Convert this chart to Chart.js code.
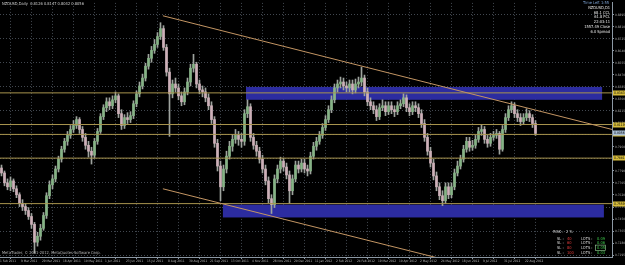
<!DOCTYPE html>
<html>
<head>
<meta charset="utf-8">
<script src="https://cdn.jsdelivr.net/npm/chart.js@4/dist/chart.umd.min.js"></script>
<style>
  html, body { margin: 0; padding: 0; background: #000; }
  #wrap { width: 625px; height: 265px; }
</style>
</head>
<body>
<div id="wrap"><canvas id="mtChart" width="625" height="265"></canvas></div>
<script>
// NZDUSD daily, Feb 2011 - Aug 2012 (one candle ~ 2 trading days)
const symbolTitle = 'NZDUSD,Daily  0.8126 0.8147 0.8042 0.8056';

const dateLabels = ['1 Feb 2011', '9 Mar 2011', '29 Mar 2011', '18 Apr 2011', '10 May 2011', '1 Jun 2011',
  '23 Jun 2011', '15 Jul 2011', '8 Aug 2011', '30 Aug 2011', '21 Sep 2011', '13 Oct 2011', '4 Nov 2011',
  '28 Nov 2011', '20 Dec 2011', '11 Jan 2012', '2 Feb 2012', '24 Feb 2012', '19 Mar 2012', '10 Apr 2012',
  '2 May 2012', '24 May 2012', '18 Jun 2012', '9 Jul 2012', '31 Jul 2012', '22 Aug 2012'];

const opens = [0.7811, 0.7776, 0.7706, 0.7678, 0.7720, 0.7664, 0.7622, 0.7559, 0.7538, 0.7510,
  0.7468, 0.7412, 0.7286, 0.7328, 0.7384, 0.7475, 0.7615, 0.7692, 0.7734, 0.7804,
  0.7874, 0.7944, 0.8000, 0.8042, 0.8084, 0.8112, 0.8154, 0.8084, 0.8028, 0.7972,
  0.7930, 0.7902, 0.8000, 0.8070, 0.8175, 0.8238, 0.8280, 0.8252, 0.8294, 0.8322,
  0.8196, 0.8112, 0.8168, 0.8154, 0.8182, 0.8266, 0.8336, 0.8392, 0.8448, 0.8532,
  0.8588, 0.8644, 0.8686, 0.8742, 0.8798, 0.8665, 0.8490, 0.8336, 0.8406, 0.8378,
  0.8322, 0.8280, 0.8350, 0.8420, 0.8518, 0.8546, 0.8406, 0.8364, 0.8350, 0.8308,
  0.8252, 0.8154, 0.7986, 0.7825, 0.7678, 0.7804, 0.7895, 0.7965, 0.8014, 0.8042,
  0.8014, 0.8000, 0.8196, 0.8245, 0.8028, 0.7972, 0.7930, 0.7874, 0.7804, 0.7720,
  0.7594, 0.7552, 0.7734, 0.7804, 0.7860, 0.7818, 0.7762, 0.7650, 0.7734, 0.7832,
  0.7804, 0.7846, 0.7804, 0.7790, 0.7895, 0.7965, 0.8000, 0.8042, 0.8098, 0.8154,
  0.8224, 0.8294, 0.8378, 0.8406, 0.8420, 0.8392, 0.8378, 0.8406, 0.8364, 0.8406,
  0.8420, 0.8448, 0.8350, 0.8280, 0.8252, 0.8224, 0.8175, 0.8238, 0.8252, 0.8210,
  0.8252, 0.8224, 0.8210, 0.8252, 0.8266, 0.8308, 0.8238, 0.8210, 0.8252, 0.8238,
  0.8196, 0.8126, 0.8028, 0.7930, 0.7846, 0.7755, 0.7678, 0.7615, 0.7580, 0.7678,
  0.7622, 0.7678, 0.7776, 0.7825, 0.7874, 0.7944, 0.8000, 0.7958, 0.7972, 0.8014,
  0.8070, 0.8084, 0.8014, 0.7986, 0.8028, 0.8042, 0.8056, 0.7944, 0.8084, 0.8168,
  0.8224, 0.8252, 0.8196, 0.8168, 0.8140, 0.8168, 0.8196, 0.8168, 0.8126];

const highs = [0.7832, 0.7790, 0.7734, 0.7748, 0.7734, 0.7685, 0.7636, 0.7587, 0.7559, 0.7531,
  0.7489, 0.7426, 0.7356, 0.7412, 0.7496, 0.7636, 0.7720, 0.7762, 0.7825, 0.7895,
  0.7965, 0.8021, 0.8070, 0.8112, 0.8147, 0.8175, 0.8168, 0.8105, 0.8056, 0.8000,
  0.7958, 0.8021, 0.8091, 0.8196, 0.8259, 0.8308, 0.8308, 0.8322, 0.8350, 0.8336,
  0.8224, 0.8189, 0.8203, 0.8210, 0.8287, 0.8357, 0.8420, 0.8476, 0.8553, 0.8616,
  0.8672, 0.8721, 0.8770, 0.8840, 0.8819, 0.8686, 0.8518, 0.8434, 0.8448, 0.8406,
  0.8350, 0.8378, 0.8448, 0.8546, 0.8616, 0.8560, 0.8434, 0.8392, 0.8378, 0.8336,
  0.8280, 0.8175, 0.8014, 0.7860, 0.7832, 0.7930, 0.8000, 0.8049, 0.8084, 0.8070,
  0.8056, 0.8224, 0.8294, 0.8266, 0.8056, 0.8000, 0.7958, 0.7902, 0.7832, 0.7748,
  0.7622, 0.7762, 0.7832, 0.7888, 0.7881, 0.7846, 0.7790, 0.7762, 0.7860, 0.7860,
  0.7874, 0.7874, 0.7832, 0.7923, 0.7993, 0.8028, 0.8070, 0.8126, 0.8182, 0.8252,
  0.8322, 0.8406, 0.8434, 0.8455, 0.8448, 0.8420, 0.8434, 0.8434, 0.8441, 0.8455,
  0.8525, 0.8469, 0.8378, 0.8308, 0.8280, 0.8252, 0.8266, 0.8294, 0.8280, 0.8280,
  0.8280, 0.8252, 0.8280, 0.8294, 0.8336, 0.8329, 0.8266, 0.8280, 0.8280, 0.8266,
  0.8224, 0.8154, 0.8056, 0.7958, 0.7874, 0.7783, 0.7706, 0.7650, 0.7706, 0.7706,
  0.7706, 0.7804, 0.7860, 0.7902, 0.7972, 0.8028, 0.8028, 0.8007, 0.8042, 0.8098,
  0.8119, 0.8105, 0.8042, 0.8056, 0.8070, 0.8084, 0.8070, 0.8112, 0.8196, 0.8252,
  0.8280, 0.8273, 0.8224, 0.8196, 0.8196, 0.8231, 0.8217, 0.8189, 0.8147];

const lows = [0.7755, 0.7685, 0.7657, 0.7650, 0.7643, 0.7601, 0.7538, 0.7510, 0.7482, 0.7447,
  0.7384, 0.7209, 0.7258, 0.7300, 0.7370, 0.7454, 0.7594, 0.7664, 0.7713, 0.7783,
  0.7853, 0.7923, 0.7972, 0.8021, 0.8063, 0.8091, 0.8056, 0.8000, 0.7944, 0.7888,
  0.7839, 0.7881, 0.7979, 0.8056, 0.8154, 0.8210, 0.8224, 0.8231, 0.8273, 0.8168,
  0.8084, 0.8091, 0.8126, 0.8133, 0.8161, 0.8245, 0.8315, 0.8371, 0.8427, 0.8511,
  0.8560, 0.8623, 0.8665, 0.8721, 0.8644, 0.8462, 0.8035, 0.8308, 0.8350, 0.8294,
  0.8252, 0.8259, 0.8329, 0.8392, 0.8490, 0.8378, 0.8336, 0.8315, 0.8280, 0.8224,
  0.8126, 0.7958, 0.7790, 0.7580, 0.7650, 0.7776, 0.7874, 0.7930, 0.7986, 0.7972,
  0.7958, 0.7972, 0.8168, 0.8000, 0.7944, 0.7895, 0.7846, 0.7776, 0.7692, 0.7566,
  0.7489, 0.7531, 0.7706, 0.7776, 0.7790, 0.7734, 0.7559, 0.7622, 0.7713, 0.7776,
  0.7783, 0.7776, 0.7755, 0.7769, 0.7874, 0.7937, 0.7979, 0.8021, 0.8077, 0.8133,
  0.8203, 0.8273, 0.8350, 0.8378, 0.8364, 0.8350, 0.8350, 0.8336, 0.8343, 0.8378,
  0.8392, 0.8322, 0.8252, 0.8224, 0.8196, 0.8147, 0.8154, 0.8217, 0.8182, 0.8189,
  0.8196, 0.8175, 0.8189, 0.8231, 0.8245, 0.8210, 0.8182, 0.8189, 0.8210, 0.8168,
  0.8098, 0.8000, 0.7902, 0.7818, 0.7727, 0.7650, 0.7587, 0.7545, 0.7559, 0.7594,
  0.7601, 0.7657, 0.7755, 0.7804, 0.7853, 0.7923, 0.7930, 0.7937, 0.7951, 0.7993,
  0.8042, 0.7986, 0.7958, 0.7965, 0.8007, 0.8021, 0.7909, 0.7930, 0.8063, 0.8147,
  0.8203, 0.8168, 0.8140, 0.8112, 0.8119, 0.8147, 0.8140, 0.8098, 0.8042];

const closes = [0.7776, 0.7706, 0.7678, 0.7720, 0.7664, 0.7622, 0.7559, 0.7538, 0.7510, 0.7468,
  0.7412, 0.7286, 0.7328, 0.7384, 0.7475, 0.7615, 0.7692, 0.7734, 0.7804, 0.7874,
  0.7944, 0.8000, 0.8042, 0.8084, 0.8112, 0.8154, 0.8084, 0.8028, 0.7972, 0.7930,
  0.7902, 0.8000, 0.8070, 0.8175, 0.8238, 0.8280, 0.8252, 0.8294, 0.8322, 0.8196,
  0.8112, 0.8168, 0.8154, 0.8182, 0.8266, 0.8336, 0.8392, 0.8448, 0.8532, 0.8588,
  0.8644, 0.8686, 0.8742, 0.8798, 0.8665, 0.8490, 0.8336, 0.8406, 0.8378, 0.8322,
  0.8280, 0.8350, 0.8420, 0.8518, 0.8546, 0.8406, 0.8364, 0.8350, 0.8308, 0.8252,
  0.8154, 0.7986, 0.7825, 0.7678, 0.7804, 0.7895, 0.7965, 0.8014, 0.8042, 0.8014,
  0.8000, 0.8196, 0.8245, 0.8028, 0.7972, 0.7930, 0.7874, 0.7804, 0.7720, 0.7594,
  0.7552, 0.7734, 0.7804, 0.7860, 0.7818, 0.7762, 0.7650, 0.7734, 0.7832, 0.7804,
  0.7846, 0.7804, 0.7790, 0.7895, 0.7965, 0.8000, 0.8042, 0.8098, 0.8154, 0.8224,
  0.8294, 0.8378, 0.8406, 0.8420, 0.8392, 0.8378, 0.8406, 0.8364, 0.8406, 0.8420,
  0.8448, 0.8350, 0.8280, 0.8252, 0.8224, 0.8175, 0.8238, 0.8252, 0.8210, 0.8252,
  0.8224, 0.8210, 0.8252, 0.8266, 0.8308, 0.8238, 0.8210, 0.8252, 0.8238, 0.8196,
  0.8126, 0.8028, 0.7930, 0.7846, 0.7755, 0.7678, 0.7615, 0.7580, 0.7678, 0.7622,
  0.7678, 0.7776, 0.7825, 0.7874, 0.7944, 0.8000, 0.7958, 0.7972, 0.8014, 0.8070,
  0.8084, 0.8014, 0.7986, 0.8028, 0.8042, 0.8056, 0.7944, 0.8084, 0.8168, 0.8224,
  0.8252, 0.8196, 0.8168, 0.8140, 0.8168, 0.8196, 0.8168, 0.8126, 0.8056];

// horizontal support / resistance levels
const levels = [0.8343, 0.8119, 0.8049, 0.7881, 0.7559];

// trend lines, in bar index / price
const upperTrendX = [53.8, 203.5];
const upperTrendY = [0.8889, 0.8084];
const lowerTrendX = [53.8, 145.5];
const lowerTrendY = [0.7664, 0.7174];

// blue zones
const zoneStart = [81.5, 73.8];
const zoneEnd = [200.2, 200.8];
const zoneTop = [0.8385, 0.7552];
const zoneBottom = [0.8294, 0.7461];

const priceTicks = [0.7195, 0.7280, 0.7365, 0.7450, 0.7535, 0.7620, 0.7705, 0.7790, 0.7875, 0.7960,
  0.8045, 0.8130, 0.8215, 0.8300, 0.8385, 0.8470, 0.8555, 0.8640, 0.8725, 0.8810, 0.8895];

const infoLines = ['NZDUSD,D1', '68.1 CCL', '61.8 PCL', '22:03:11', '1557.49 Close', '6.0 Spread'];
const riskPercent = 2;
const stopLosses = [40, 60, 80, 100];
const lotSizes = ['0.09', '0.06', '0.05', '0.03'];

const barsPerLabel = 7;
const fontFamily = "'DejaVu Sans Condensed', 'Liberation Sans Narrow', 'Liberation Sans', Arial, sans-serif";
const gridColor = 'rgba(120,132,145,0.55)';

const dateTicks = dateLabels.map((d, k) => k === 0 ? -0.5 : 6.5 + barsPerLabel * (k - 1));

const isUp = closes.map((c, i) => c >= opens[i]);

const wickData = highs.map((h, i) => ({ x: i, y: [lows[i], h] }));
const bodyData = closes.map((c, i) => ({ x: i, y: [opens[i], c] }));

const lineSet = (xs, ys, color, width) => ({
    type: 'line',
    data: xs.map((x, k) => ({ x: x, y: ys[k] })),
    borderColor: color,
    borderWidth: width,
    pointRadius: 0,
    order: 0,
});

const datasets = [
    {
        type: 'bar',
        data: bodyData,
        backgroundColor: isUp.map(u => u ? '#86b386' : '#cdb0b8'),
        barThickness: 2,
        grouped: false,
        order: 1,
    },
    {
        type: 'bar',
        data: wickData,
        backgroundColor: '#9ea39e',
        barThickness: 1,
        grouped: false,
        order: 2,
    },
    lineSet(upperTrendX, upperTrendY, '#c39563', 1),
    lineSet(lowerTrendX, lowerTrendY, '#c39563', 1),
];
levels.forEach(v => datasets.push(lineSet([-0.5, 203.5], [v, v], '#a8944e', 1)));

const overlayPlugin = {
    id: 'mtOverlay',
    beforeDatasetsDraw(chart) {
        const { ctx, chartArea, scales } = chart;
        ctx.save();
        ctx.beginPath();
        ctx.rect(chartArea.left, chartArea.top, chartArea.width, chartArea.height);
        ctx.clip();
        ctx.fillStyle = '#2c2ca0';
        zoneStart.forEach((s, k) => {
            const x1 = scales.x.getPixelForValue(s);
            const x2 = scales.x.getPixelForValue(zoneEnd[k]);
            const y1 = scales.y.getPixelForValue(zoneTop[k]);
            const y2 = scales.y.getPixelForValue(zoneBottom[k]);
            ctx.fillRect(x1, y1, x2 - x1, y2 - y1);
        });
        ctx.restore();
    },
    afterDraw(chart) {
        const { ctx, chartArea, scales } = chart;
        ctx.save();
        ctx.textBaseline = 'middle';
        ctx.font = '3.4px ' + fontFamily;

        // price tags on the right axis
        const tag = (v, bg) => {
            const y = Math.round(scales.y.getPixelForValue(v));
            ctx.fillStyle = bg;
            ctx.fillRect(chartArea.right + 1, y - 2.5, 12, 5);
            ctx.fillStyle = '#000';
            ctx.textAlign = 'left';
            ctx.fillText(v.toFixed(4), chartArea.right + 2, y + 0.5);
        };
        levels.forEach(v => tag(v, '#d6bc3c'));
        tag(closes[closes.length - 1], '#a9bfd6');

        ctx.font = '4px ' + fontFamily;
        // header
        ctx.fillStyle = '#cfcfcf';
        ctx.textAlign = 'left';
        ctx.fillText(symbolTitle, 2, 4);

        // info block, top right
        ctx.textAlign = 'right';
        ctx.fillStyle = '#7fa6d8';
        ctx.fillText('Time Left 1:55', chartArea.right - 3, 3);
        ctx.fillStyle = '#e6e6e6';
        infoLines.forEach((t, k) => ctx.fillText(t, chartArea.right - 2, 8 + k * 4.7));

        // copyright
        ctx.textAlign = 'left';
        ctx.fillStyle = '#b5b5b5';
        ctx.fillText('MetaTrader, \u00a9 2001-2012, MetaQuotes Software Corp.', 2, 253);

        // risk panel
        ctx.fillStyle = '#d8d8d8';
        ctx.fillText('RISK :', 553, 232);
        ctx.fillText(riskPercent + ' %', 566, 232);
        stopLosses.forEach((sl, k) => {
            const y = 238.5 + k * 4.7;
            ctx.fillStyle = '#d8d8d8';
            ctx.fillText('SL :', 557, y);
            ctx.fillText('LOTS :', 581, y);
            ctx.fillStyle = '#e03a3a';
            ctx.fillText(String(sl), 567, y);
            ctx.fillStyle = '#3cc84a';
            ctx.fillText(lotSizes[k], 597, y);
            if (k === 2) {
                ctx.strokeStyle = '#9fdc9f';
                ctx.lineWidth = 0.6;
                ctx.strokeRect(595.5, y - 2.8, 10, 5.4);
            }
        });
        ctx.restore();
    }
};

new Chart(document.getElementById('mtChart').getContext('2d'), {
    type: 'bar',
    data: { datasets: datasets },
    options: {
        responsive: false,
        animation: false,
        devicePixelRatio: 1,
        layout: { padding: 0 },
        plugins: {
            legend: { display: false },
            tooltip: { enabled: false },
        },
        scales: {
            x: {
                type: 'linear',
                position: 'bottom',
                min: -0.5,
                max: 203.5,
                offset: false,
                afterBuildTicks: s => { s.ticks = dateTicks.map(v => ({ value: v })); },
                afterFit: s => { s.height = 8; },
                ticks: {
                    autoSkip: false,
                    maxRotation: 0,
                    align: 'start',
                    padding: 0,
                    color: '#b4b4b4',
                    font: { size: 3.2, family: fontFamily },
                    callback: (v, idx) => dateLabels[idx],
                },
                grid: { color: gridColor, tickLength: 2, tickColor: '#8c98a4' },
                border: { color: '#8c98a4', dash: [1, 2] },
            },
            y: {
                type: 'linear',
                position: 'right',
                min: 0.7181,
                max: 0.8980,
                afterBuildTicks: s => { s.ticks = priceTicks.map(v => ({ value: v })); },
                afterFit: s => { s.width = 13; },
                ticks: {
                    padding: 1,
                    color: '#a8a8a8',
                    font: { size: 3.2, family: fontFamily },
                    callback: v => v.toFixed(4),
                },
                grid: {
                    color: c => c.index % 2 ? 'rgba(0,0,0,0)' : gridColor,
                    tickLength: 2,
                    tickColor: '#8c98a4',
                },
                border: { color: '#8c98a4', dash: [1, 2] },
            },
        },
    },
    plugins: [overlayPlugin],
});
</script>
</body>
</html>
